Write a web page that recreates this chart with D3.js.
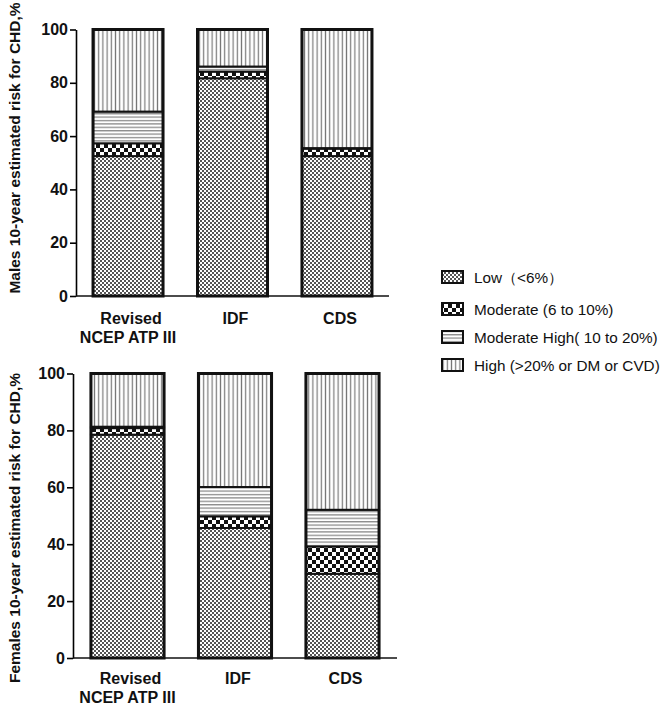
<!DOCTYPE html>
<html>
<head>
<meta charset="utf-8">
<script src="https://cdn.jsdelivr.net/npm/d3@7"></script>
<style>
  body { margin: 0; background: #fff; }
  svg text { font-family: "Liberation Sans", Arial, sans-serif; }
</style>
</head>
<body>
<svg id="chart" width="661" height="705"></svg>
<script>
// categories and risk groups
var categories = ["Revised NCEP ATP III", "IDF", "CDS"];
var riskGroups = ["Low（<6%）", "Moderate (6 to 10%)", "Moderate High( 10 to 20%)", "High (>20% or DM or CVD)"];
var yTicks = [0, 20, 40, 60, 80, 100];

// values, one array per category (Low, Moderate, Mod High, High)
var malesRevised = [52.5, 4.8, 11.9, 30.8];
var malesIDF = [81.7, 2.5, 1.9, 13.9];
var malesCDS = [52.5, 2.8, 0.2, 44.5];

var femalesRevised = [78.5, 2.3, 0.5, 18.7];
var femalesIDF = [45.7, 4.1, 10.3, 39.9];
var femalesCDS = [29.6, 9.6, 12.9, 47.9];

var svg = d3.select("#chart");
var defs = svg.append("defs");

// fill patterns for the four groups
function makePatterns() {
	// fine checker
	var p0 = defs.append("pattern").attr("id", "pat0").attr("patternUnits", "userSpaceOnUse")
		.attr("width", 4).attr("height", 4);
	p0.append("rect").attr("width", 4).attr("height", 4).attr("fill", "#fff");
	p0.append("rect").attr("width", 2).attr("height", 2).attr("fill", "#555");
	p0.append("rect").attr("x", 2).attr("y", 2).attr("width", 2).attr("height", 2).attr("fill", "#555");

	// coarse checker
	var p1 = defs.append("pattern").attr("id", "pat1").attr("patternUnits", "userSpaceOnUse")
		.attr("width", 8).attr("height", 8);
	p1.append("rect").attr("width", 8).attr("height", 8).attr("fill", "#fff");
	p1.append("rect").attr("width", 4).attr("height", 4).attr("fill", "#111");
	p1.append("rect").attr("x", 4).attr("y", 4).attr("width", 4).attr("height", 4).attr("fill", "#111");

	// horizontal lines
	var p2 = defs.append("pattern").attr("id", "pat2").attr("patternUnits", "userSpaceOnUse")
		.attr("width", 4).attr("height", 3.4);
	p2.append("rect").attr("width", 4).attr("height", 3.4).attr("fill", "#fff");
	p2.append("rect").attr("y", 1).attr("width", 4).attr("height", 1.1).attr("fill", "#777");

	// vertical lines
	var p3 = defs.append("pattern").attr("id", "pat3").attr("patternUnits", "userSpaceOnUse")
		.attr("width", 4.2).attr("height", 4);
	p3.append("rect").attr("width", 4.2).attr("height", 4).attr("fill", "#fff");
	p3.append("rect").attr("x", 1.5).attr("width", 1.2).attr("height", 4).attr("fill", "#777");
}
makePatterns();

function drawPanel(opts) {
	var g = svg.append("g");

	var x = d3.scaleBand()
		.domain(categories)
		.range([opts.left, opts.right])
		.paddingInner(opts.pi)
		.paddingOuter(opts.po);

	var y = d3.scaleLinear()
		.domain([0, 100])
		.range([opts.bottom, opts.top]);

	// stack the segments
	var rows = categories.map(function(c, i) {
		var row = { cat: c };
		riskGroups.forEach(function(r, j) { row[r] = opts.values[i][j]; });
		return row;
	});
	var series = d3.stack().keys(riskGroups)(rows);

	series.forEach(function(s, k) {
		g.selectAll(null)
			.data(s)
			.enter()
			.append("rect")
			.attr("x", function(d) { return x(d.data.cat); })
			.attr("y", function(d) { return y(d[1]); })
			.attr("width", x.bandwidth())
			.attr("height", function(d) { return y(d[0]) - y(d[1]); })
			.attr("fill", "url(#pat" + k + ")")
			.attr("stroke", "#111")
			.attr("stroke-width", 2);
	});

	// thick outline around each bar
	g.selectAll(null)
		.data(rows)
		.enter()
		.append("rect")
		.attr("x", function(d) { return x(d.cat); })
		.attr("y", y(100))
		.attr("width", x.bandwidth())
		.attr("height", y(0) - y(100))
		.attr("fill", "none")
		.attr("stroke", "#111")
		.attr("stroke-width", 3);

	// y axis
	var yAxis = g.append("g")
		.attr("transform", "translate(" + opts.left + ",0)")
		.call(d3.axisLeft(y).tickValues(yTicks).tickSize(6).tickSizeOuter(0).tickPadding(2));
	yAxis.select(".domain").attr("stroke-width", 1.6);
	yAxis.selectAll(".tick line").attr("stroke-width", 1.6);
	yAxis.selectAll("text")
		.attr("font-size", 16)
		.attr("font-weight", "bold")
		.attr("fill", "#111");

	// x axis line
	g.append("line")
		.attr("x1", opts.left).attr("x2", opts.right)
		.attr("y1", y(0)).attr("y2", y(0))
		.attr("stroke", "#111")
		.attr("stroke-width", 1.6);

	// category labels
	var labels = [["Revised", "NCEP ATP III"], ["IDF"], ["CDS"]];
	labels.forEach(function(lines, i) {
		var t = g.append("text")
			.attr("x", x(categories[i]) + x.bandwidth() / 2)
			.attr("y", y(0) + opts.labelDy)
			.attr("text-anchor", "middle")
			.attr("font-size", 16)
			.attr("font-weight", "bold")
			.attr("fill", "#111");
		lines.forEach(function(l, j) {
			t.append("tspan")
				.attr("x", x(categories[i]) + x.bandwidth() / 2 + (j == 0 ? 3 : 0))
				.attr("dy", j == 0 ? 0 : 19)
				.text(l);
		});
	});

	// y axis title
	g.append("text")
		.attr("transform", "translate(20," + opts.titleY + ") rotate(-90)")
		.attr("text-anchor", "middle")
		.attr("font-size", 15.5)
		.attr("font-weight", "bold")
		.attr("fill", "#111")
		.text(opts.title);
}

drawPanel({
	values: [malesRevised, malesIDF, malesCDS],
	left: 76, right: 389, top: 29.5, bottom: 296,
	pi: 0.33, po: 0.163,
	labelDy: 28, titleY: 148,
	title: "Males 10-year estimated risk for CHD,%"
});

drawPanel({
	values: [femalesRevised, femalesIDF, femalesCDS],
	left: 73, right: 397, top: 373.5, bottom: 658,
	pi: 0.32, po: 0.167,
	labelDy: 26, titleY: 528,
	title: "Females 10-year estimated risk for CHD,%"
});

// legend
var legendY = [277, 309, 337, 365];
var legend = svg.append("g");
riskGroups.forEach(function(r, k) {
	legend.append("rect")
		.attr("x", 442).attr("y", legendY[k] - 6)
		.attr("width", 21).attr("height", 12)
		.attr("fill", "url(#pat" + k + ")")
		.attr("stroke", "#111")
		.attr("stroke-width", 2);
	legend.append("text")
		.attr("x", 474).attr("y", legendY[k] + 5.5)
		.attr("font-size", 15.3)
		.attr("fill", "#111")
		.text(r);
});
</script>
</body>
</html>
